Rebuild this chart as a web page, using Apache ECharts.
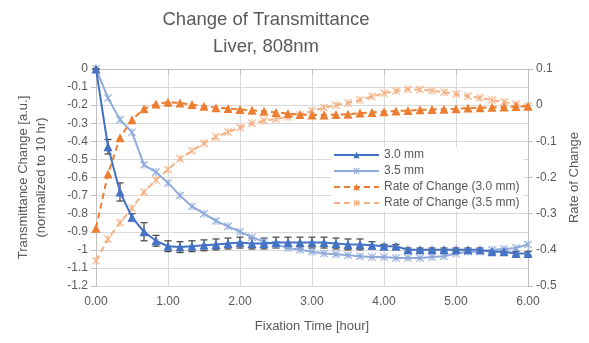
<!DOCTYPE html>
<html><head><meta charset="utf-8">
<script src="https://cdn.jsdelivr.net/npm/echarts@6/dist/echarts.min.js"></script>
<style>html,body{margin:0;padding:0;background:#fff}#c{width:589px;height:343px}</style>
</head><body><div id="c"></div>
<script>
// Time (hours), one sample every 10 minutes
var times = [];
for (var i = 0; i <= 36; i++) times.push(i / 6);

var trans30 = [0, -0.43, -0.68, -0.82, -0.90, -0.95, -0.98, -0.985, -0.98, -0.975, -0.97, -0.965, -0.96, -0.965, -0.965, -0.96, -0.96, -0.96, -0.96, -0.96, -0.965, -0.97, -0.97, -0.975, -0.98, -0.98, -1.0, -1.0, -1.0, -1.0, -1.0, -1.0, -1.0, -1.01, -1.01, -1.02, -1.02];
var err30 = [0, 0.04, 0.05, 0.02, 0.05, 0.03, 0.03, 0.03, 0.03, 0.03, 0.03, 0.03, 0.03, 0.03, 0.03, 0.03, 0.03, 0.03, 0.03, 0.03, 0.03, 0.03, 0.03, 0.02, 0.01, 0.01, 0.01, 0.01, 0.01, 0.01, 0.01, 0.01, 0.01, 0.01, 0.01, 0.01, 0.01];
var trans35 = [0, -0.16, -0.28, -0.35, -0.53, -0.57, -0.63, -0.70, -0.76, -0.80, -0.84, -0.87, -0.90, -0.93, -0.955, -0.97, -0.99, -1.0, -1.01, -1.02, -1.025, -1.03, -1.035, -1.04, -1.04, -1.045, -1.045, -1.045, -1.04, -1.035, -1.02, -1.01, -1.01, -1.0, -0.995, -0.99, -0.97];
var rate30 = [-0.34, -0.19, -0.09, -0.04, -0.01, 0.003, 0.008, 0.006, 0.002, -0.003, -0.007, -0.009, -0.012, -0.014, -0.017, -0.02, -0.023, -0.026, -0.027, -0.027, -0.026, -0.025, -0.022, -0.02, -0.018, -0.016, -0.015, -0.013, -0.012, -0.011, -0.01, -0.008, -0.007, -0.006, -0.005, -0.004, -0.003];
var rate35 = [-0.43, -0.37, -0.325, -0.285, -0.24, -0.207, -0.178, -0.148, -0.126, -0.105, -0.088, -0.074, -0.062, -0.05, -0.043, -0.038, -0.033, -0.027, -0.015, -0.007, 0.0, 0.006, 0.014, 0.024, 0.033, 0.039, 0.044, 0.043, 0.04, 0.036, 0.031, 0.025, 0.02, 0.014, 0.009, 0.003, -0.002];

var seriesNames = ['3.0 mm', '3.5 mm', 'Rate of Change (3.0 mm)', 'Rate of Change (3.5 mm)'];
var titleLines = ['Change of Transmittance', 'Liver, 808nm'];

function pairs(ys) { return ys.map(function (v, i) { return [times[i], v]; }); }

var star = 'path://M0,1 L1,0 L5,4 L9,0 L10,1 L6,5 L10,9 L9,10 L5,6 L1,10 L0,9 L4,5 Z M4.4,0 L5.6,0 L5.6,10 L4.4,10 Z';
var FONT = 'Liberation Sans';
var TXT = '#595959';

var chart = echarts.init(document.getElementById('c'));
chart.setOption({
  animation: false,
  textStyle: { fontFamily: FONT },
  title: [
    { text: titleLines[0], left: 261, top: 5, textAlign: 'center', textStyle: { fontFamily: FONT, fontSize: 18.5, fontWeight: 'normal', color: TXT } },
    { text: titleLines[1], left: 261, top: 32, textAlign: 'center', textStyle: { fontFamily: FONT, fontSize: 18.5, fontWeight: 'normal', color: TXT } }
  ],
  grid: { left: 96, right: 61, top: 69, bottom: 57 },
  legend: {
    data: seriesNames, orient: 'vertical', left: 331, top: 147, itemWidth: 45, itemHeight: 8, itemGap: 4,
    backgroundColor: '#fff', padding: [2, 4, 2, 2],
    textStyle: { fontFamily: FONT, fontSize: 12, color: TXT }
  },
  xAxis: {
    type: 'value', min: 0, max: 6, interval: 1,
    name: 'Fixation Time [hour]', nameLocation: 'middle', nameGap: 34,
    nameTextStyle: { fontSize: 13, color: TXT, fontFamily: FONT },
    axisLine: { lineStyle: { color: '#bfbfbf' } }, axisTick: { show: true, lineStyle: { color: '#bfbfbf' } },
    axisLabel: { formatter: function (v) { return v.toFixed(2); }, color: TXT, fontSize: 12, margin: 10 },
    splitLine: { show: true, lineStyle: { color: '#d9d9d9' } }
  },
  yAxis: [
    {
      type: 'value', min: -1.2, max: 0, interval: 0.1,
      name: 'Transmittance Change [a.u.]\n(normalized to 10 hr)', nameLocation: 'middle', nameGap: 46, nameRotate: 90,
      nameTextStyle: { fontSize: 13, color: TXT, fontFamily: FONT, lineHeight: 18 },
      axisLine: { show: true, lineStyle: { color: '#bfbfbf' } }, axisTick: { show: true, lineStyle: { color: '#bfbfbf' } },
      axisLabel: { formatter: function (v) { return String(parseFloat(v.toFixed(1))); }, color: TXT, fontSize: 12, margin: 8 },
      splitLine: { show: true, lineStyle: { color: '#d9d9d9' } }
    },
    {
      type: 'value', min: -0.5, max: 0.1, interval: 0.1,
      name: 'Rate of Change', nameLocation: 'middle', nameGap: 38, nameRotate: 90,
      nameTextStyle: { fontSize: 13, color: TXT, fontFamily: FONT },
      axisLine: { show: true, lineStyle: { color: '#bfbfbf' } }, axisTick: { show: true, lineStyle: { color: '#bfbfbf' } },
      axisLabel: { formatter: function (v) { return String(parseFloat(v.toFixed(1))); }, color: TXT, fontSize: 12, margin: 8 },
      splitLine: { show: false }
    }
  ],
  series: [
    {
      name: 'err30', type: 'custom', yAxisIndex: 0, z: 3,
      data: trans30.map(function (v, i) { return [times[i], v - err30[i], v + err30[i]]; }),
      renderItem: function (params, api) {
        var lo = api.coord([api.value(0), api.value(1)]);
        var hi = api.coord([api.value(0), api.value(2)]);
        var w = 3.5;
        var st = { stroke: '#404040', lineWidth: 1.2 };
        return { type: 'group', children: [
          { type: 'line', shape: { x1: lo[0], y1: lo[1], x2: hi[0], y2: hi[1] }, style: st },
          { type: 'line', shape: { x1: lo[0] - w, y1: lo[1], x2: lo[0] + w, y2: lo[1] }, style: st },
          { type: 'line', shape: { x1: hi[0] - w, y1: hi[1], x2: hi[0] + w, y2: hi[1] }, style: st }
        ] };
      }
    },
    {
      name: seriesNames[3], type: 'line', yAxisIndex: 1, data: pairs(rate35), z: 4,
      symbol: star, symbolSize: 8, showAllSymbol: true,
      lineStyle: { color: '#F4B183', width: 2, type: [6, 4] }, itemStyle: { color: '#F4B183' }
    },
    {
      name: seriesNames[1], type: 'line', yAxisIndex: 0, data: pairs(trans35), z: 5,
      symbol: star, symbolSize: 8, showAllSymbol: true,
      lineStyle: { color: '#8FAADC', width: 2 }, itemStyle: { color: '#8FAADC' }
    },
    {
      name: seriesNames[2], type: 'line', yAxisIndex: 1, data: pairs(rate30), z: 6,
      symbol: 'triangle', symbolSize: 9, showAllSymbol: true,
      lineStyle: { color: '#ED7D31', width: 2, type: [6, 4] }, itemStyle: { color: '#ED7D31' }
    },
    {
      name: seriesNames[0], type: 'line', yAxisIndex: 0, data: pairs(trans30), z: 7,
      symbol: 'triangle', symbolSize: 9, showAllSymbol: true,
      lineStyle: { color: '#4472C4', width: 2 }, itemStyle: { color: '#4472C4' }
    }
  ]
});
</script></body></html>
